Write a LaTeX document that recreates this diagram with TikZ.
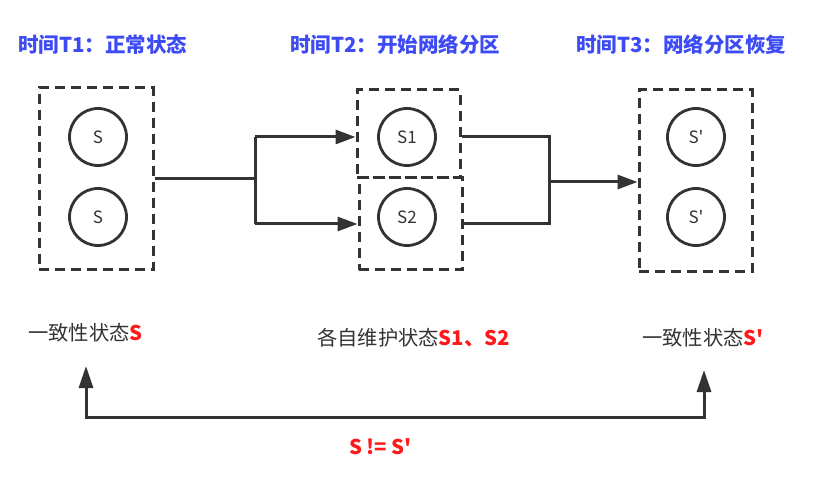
\documentclass[tikz,border=0pt]{standalone}
\usepackage{fontspec}
\setmainfont{Noto Sans CJK SC}[Ligatures=TeXOff]
\usetikzlibrary{arrows.meta}
\definecolor{ttlblue}{HTML}{3D4BF5}
\definecolor{lblred}{HTML}{FF1A1A}
\definecolor{ink}{HTML}{333333}
\begin{document}
\begin{tikzpicture}[x=1pt,y=-1pt,
  dbox/.style={draw=ink,line width=3pt,dash pattern=on 10pt off 6pt,minimum width=#1,inner sep=0pt},
  circ/.style={draw=ink,circle,line width=2.8pt,minimum size=57pt,inner sep=0pt,font=\fontsize{17}{19}\selectfont,text=ink},
  ttl/.style={font=\fontsize{20.5}{22}\selectfont\bfseries,text=ttlblue,anchor=west,inner sep=0pt},
  lbl/.style={font=\fontsize{20.3}{22}\selectfont,text=ink,inner sep=0pt},
  conn/.style={draw=ink,line width=3pt},
  tip/.style={},
  arr/.style={conn,-{Triangle[length=20pt,width=14pt]}},
]
\useasboundingbox (0,0) rectangle (814,478);
% titles
\node[ttl] (t1) at (18,45) {时间T1：正常状态};
\node[ttl] (t2) at (290,45) {时间T2：开始网络分区};
\node[ttl] (t3) at (576,45) {时间T3：网络分区恢复};
% boxes
\node[dbox=114pt,minimum height=182pt] (b1) at (96,179) {};
\node[dbox=103pt,minimum height=88pt] (b2a) at (408.5,134) {};
\node[dbox=103pt,minimum height=92pt] (b2b) at (410.5,224) {};
\node[dbox=113pt,minimum height=182pt] (b3) at (695.5,181) {};
% circles
\node[circ] (c1) at (98,137) {S};
\node[circ] (c2) at (98,217) {S};
\node[circ] (c3) at (407,137) {S1};
\node[circ] (c4) at (407,217) {S2};
\node[circ] (c5) at (696,137) {S'};
\node[circ] (c6) at (696,217) {S'};
% connectors
\coordinate (j1) at (255,179);
\coordinate (j1a) at (255,137);
\coordinate (j1b) at (255,224);
\coordinate (j2) at (549,182);
\coordinate (j2a) at (549,137);
\coordinate (j2b) at (549,224);
\draw[conn] (b1.east |- j1) -- (j1);
\draw[conn] (j1a) -- (j1b);
\draw[arr] (j1a) -- (b2a.west |- j1a);
\draw[arr] (j1b) -- (b2b.west |- j1b);
\draw[conn] (b2a.east |- j2a) -- (j2a) -- (j2b) -- (b2b.east |- j2b);
\draw[arr] (j2) -- (b3.west |- j2);
% bottom labels
\node[lbl] (l1) at (85.5,333) {一致性状态\textcolor{lblred}{\bfseries S}};
\node[lbl] (l2) at (413.5,338) {各自维护状态\textcolor{lblred}{\bfseries S1、S2}};
\node[lbl] (l3) at (703,338) {一致性状态\textcolor{lblred}{\bfseries S'}};
\coordinate (p1) at (86,366);
\coordinate (q1) at (86,417);
\coordinate (q2) at (704,417);
\coordinate (p2) at (704,370);
\draw[conn,{Triangle[length=22pt,width=14pt]}-{Triangle[length=22pt,width=14pt]}] (p1) -- (q1) -- (q2) -- (p2);
\node[lbl,text=lblred,font=\fontsize{20.3}{22}\selectfont\bfseries] (ne) at (380.5,447) {S != S'};
\end{tikzpicture}
\end{document}
